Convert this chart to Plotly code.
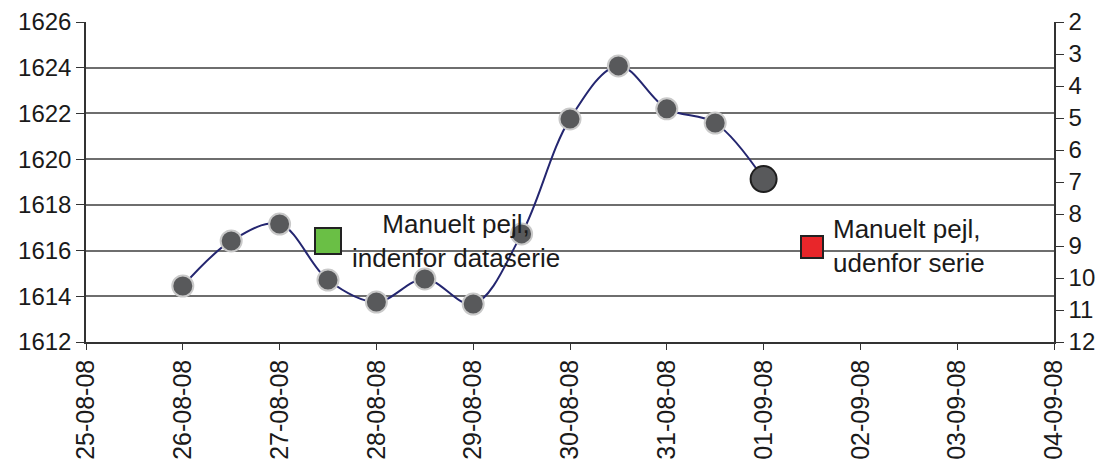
import plotly.graph_objects as go

# Data
dates = ["2008-08-26 00:00", "2008-08-26 12:00", "2008-08-27 00:00", "2008-08-27 12:00",
         "2008-08-28 00:00", "2008-08-28 12:00", "2008-08-29 00:00", "2008-08-29 12:00",
         "2008-08-30 00:00", "2008-08-30 12:00", "2008-08-31 00:00", "2008-08-31 12:00",
         "2008-09-01 00:00"]
levels = [1614.45, 1616.42, 1617.16, 1614.71, 1613.75, 1614.76, 1613.66, 1616.73,
          1621.76, 1624.08, 1622.2, 1621.58, 1619.13]
manual_in_date = ["2008-08-27 12:00"]
manual_in_value = [1616.42]
manual_out_date = ["2008-09-01 12:00"]
manual_out_value = [1616.16]
label_in = "Manuelt pejl,<br>indenfor dataserie"
label_out = "Manuelt pejl,<br>udenfor serie"
left_ticks = [1612, 1614, 1616, 1618, 1620, 1622, 1624, 1626]
grid_ticks = [1614, 1616, 1618, 1620, 1622, 1624]
right_ticks = [2, 3, 4, 5, 6, 7, 8, 9, 10, 11, 12]

FONT = "Liberation Sans, Arial, sans-serif"
fig = go.Figure()

fig.add_trace(go.Scatter(
    x=dates, y=levels, mode="lines",
    line=dict(color="#242670", width=2, shape="spline", smoothing=1),
    showlegend=False, hoverinfo="skip"))
fig.add_trace(go.Scatter(
    x=dates[:-1], y=levels[:-1], mode="markers",
    marker=dict(size=21, color="#58595b", line=dict(color="#c9c9c9", width=2)),
    showlegend=False, hoverinfo="skip"))
fig.add_trace(go.Scatter(
    x=dates[-1:], y=levels[-1:], mode="markers",
    marker=dict(size=26, color="#58595b", line=dict(color="#1e1e1e", width=2)),
    showlegend=False, hoverinfo="skip"))
fig.add_trace(go.Scatter(
    x=manual_in_date, y=manual_in_value, mode="markers",
    marker=dict(symbol="square", size=26, color="#6abf45", line=dict(color="#222222", width=2)),
    showlegend=False, hoverinfo="skip"))
fig.add_trace(go.Scatter(
    x=manual_out_date, y=manual_out_value, mode="markers",
    marker=dict(symbol="square", size=22, color="#e8262a", line=dict(color="#222222", width=2)),
    showlegend=False, hoverinfo="skip"))
# right axis dummy
fig.add_trace(go.Scatter(x=[dates[0]], y=[None], yaxis="y2", showlegend=False, hoverinfo="skip"))
# grid axis dummy
fig.add_trace(go.Scatter(x=[dates[0]], y=[None], yaxis="y3", showlegend=False, hoverinfo="skip"))

fig.add_annotation(x="2008-08-28 19:40", y=1616.4, xref="x", yref="y", text=label_in,
                   showarrow=False, align="center", font=dict(family=FONT, size=26, color="#1a1a1a"))
fig.add_annotation(x="2008-09-02 12:00", y=1616.22, xref="x", yref="y", text=label_out,
                   showarrow=False, align="left", font=dict(family=FONT, size=26, color="#1a1a1a"))

axis_font = dict(family=FONT, size=24, color="#1a1a1a")
x_font = dict(family=FONT, size=25, color="#1a1a1a")
fig.update_layout(
    width=1113, height=466,
    margin=dict(l=78, r=67, t=14, b=132, autoexpand=False),
    paper_bgcolor="white", plot_bgcolor="white",
    font=axis_font,
    xaxis=dict(type="date", range=["2008-08-25", "2008-09-04"], dtick=86400000,
               tick0="2008-08-25", tickformat="%d-%m-%y", tickangle=-90,
               showgrid=False, showline=True, linecolor="#333333", linewidth=1.5,
               ticks="outside", ticklen=6, tickcolor="#333333", tickfont=x_font,
               zeroline=False, automargin=False),
    yaxis=dict(range=[1612, 1626], tickvals=left_ticks, showgrid=False,
               showline=True, linecolor="#333333", linewidth=1.5,
               ticks="outside", ticklen=8, tickcolor="#333333", tickfont=axis_font,
               zeroline=False, automargin=False),
    yaxis2=dict(range=[12, 2], tickvals=right_ticks, overlaying="y", side="right",
                showgrid=False, showline=True, linecolor="#333333", linewidth=1.5,
                ticks="outside", ticklen=8, tickcolor="#333333", tickfont=axis_font,
                zeroline=False, anchor="x", automargin=False),
    yaxis3=dict(range=[1612, 1626], tickvals=grid_ticks, overlaying="y", showgrid=True,
                gridcolor="#6e6e6e", gridwidth=1.5, showticklabels=False, ticks="",
                showline=False, zeroline=False, anchor="x", automargin=False),
)

fig.write_html("out.html")
